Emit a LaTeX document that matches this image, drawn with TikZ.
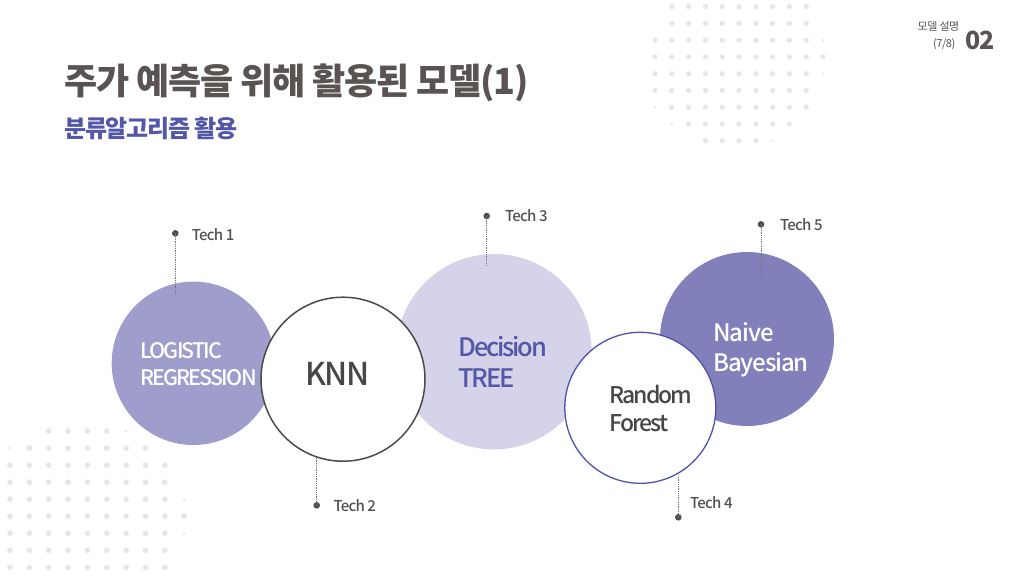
\documentclass[tikz,border=0pt]{standalone}
\usepackage{fontspec}
\newfontfamily\krA{Noto Sans CJK KR Medium}[LetterSpace=-5]
\newfontfamily\krN{Noto Sans CJK KR Medium}[LetterSpace=-8.5]
\newfontfamily\krT{Noto Sans CJK KR Black}[LetterSpace=-3.3]
\newfontfamily\krS{Noto Sans CJK KR}[LetterSpace=-5]
\newfontfamily\krR{Noto Sans CJK KR}[LetterSpace=-4]
\definecolor{titlegray}{HTML}{595352}
\definecolor{subblue}{HTML}{5457A8}
\definecolor{dotgray}{HTML}{E6E6E6}
\definecolor{logfill}{HTML}{9E9DCC}
\definecolor{decfill}{HTML}{D4D3EA}
\definecolor{naivefill}{HTML}{8180BB}
\definecolor{rfborder}{HTML}{5053A5}
\definecolor{knnborder}{HTML}{4D4949}
\definecolor{textgray}{HTML}{4A4545}
\definecolor{techgray}{HTML}{555050}
\begin{document}
\begin{tikzpicture}[x=1pt,y=-1pt,
  bigcircle/.style={circle, inner sep=0pt, draw=none},
  techdot/.style={circle, inner sep=0pt, minimum size=6.6pt, fill=techgray},
  dotline/.style={draw=techgray!80, line width=0.7pt, dash pattern=on 0.9pt off 0.9pt},
  techlabel/.style={anchor=base west, inner sep=0pt, text=techgray, font=\krA\fontsize{15}{18}\selectfont},
  linetext/.style={anchor=base west, inner sep=0pt}
]
\useasboundingbox (0,0) rectangle (1024,576);
\fill[white] (0,0) rectangle (1024,576);

% dot grid top right
\foreach \r/\a/\b in {0/1/9,1/1/9,2/0/9,3/0/10,4/0/9,5/0/9,6/1/9,7/2/8,8/3/6}
  \foreach \c in {\a,...,\b}
    \fill[dotgray] (655+\c*16.8, 6.7+\r*16.75) circle (2.6pt);
\foreach \r/\c in {2/10,4/10,6/0,7/1,8/7}
  \fill[dotgray] (655+\c*16.8, 6.7+\r*16.75) circle (1.3pt);

% dot grid bottom left
\foreach \r/\a/\b in {0/2/5,1/1/7,2/0/8,3/0/8,4/0/8,5/0/9,6/0/8,7/0/8,8/0/8}
  \foreach \c in {\a,...,\b}
    \fill[dotgray] (10+\c*19.35, 431+\r*17.05) circle (2.8pt);
\foreach \r/\c in {0/6,1/0,4/9,6/9}
  \fill[dotgray] (10+\c*19.35, 431+\r*17.05) circle (1.4pt);

% title
\node[linetext, text=titlegray, font=\krT\fontsize{36}{40}\selectfont] (title) at (64,94) {주가 예측을 위해 활용된 모델(1)};
\node[linetext, text=subblue, font=\krS\bfseries\fontsize{24}{28}\selectfont] (subtitle) at (64,137.5) {분류알고리즘 활용};

% header right
\node[anchor=base east, inner sep=0pt, text=titlegray, font=\krR\fontsize{11}{13}\selectfont] (sec) at (959.5,30) {모델 설명};
\node[anchor=base east, inner sep=0pt, text=titlegray, font=\krR\fontsize{11}{13}\selectfont] (page) at (955.5,47.5) {(7/8)};
\node[linetext, text=titlegray, font=\krS\bfseries\fontsize{25}{28}\selectfont] (num) at (965,49) {02};

% circles
\node[bigcircle, fill=logfill, minimum size=163.4pt] (logc) at (193.4,363.3) {};
\node[bigcircle, fill=decfill, minimum size=195.4pt] (decc) at (494,351.7) {};
\node[bigcircle, fill=white, draw=knnborder, line width=1.5pt, minimum size=164pt] (knnc) at (343,379.2) {};
\node[bigcircle, fill=naivefill, minimum size=174pt] (naic) at (747,339) {};
\node[bigcircle, fill=white, draw=rfborder, line width=1.3pt, minimum size=151pt] (rfc) at (640.3,407.8) {};

% circle texts
\node[linetext, text=white, font=\krN\fontsize{21.4}{26}\selectfont] (log1) at (140,358.3) {LOGISTIC};
\node[linetext, text=white, font=\krN\fontsize{21.4}{26}\selectfont] (log2) at (140,385) {REGRESSION};
\node[anchor=base, inner sep=0pt, text=textgray, font=\krA\fontsize{31.5}{36}\selectfont] (knn) at (337.3,385.7) {KNN};
\node[linetext, text=subblue, font=\krN\fontsize{25.5}{30}\selectfont] (dec1) at (458.3,356) {Decision};
\node[linetext, text=subblue, font=\krN\fontsize{25.5}{30}\selectfont] (dec2) at (458.3,387.3) {TREE};
\node[linetext, text=white, font=\krA\fontsize{24}{28}\selectfont] (nai1) at (713.3,341.7) {Naive};
\node[linetext, text=white, font=\krA\fontsize{24}{28}\selectfont] (nai2) at (713.3,371.7) {Bayesian};
\node[linetext, text=textgray, font=\krN\fontsize{23}{27}\selectfont] (rf1) at (609.3,403.3) {Random};
\node[linetext, text=textgray, font=\krN\fontsize{23}{27}\selectfont] (rf2) at (609.3,431.7) {Forest};

% tech markers
\coordinate (e1) at (175.3,293.3);
\coordinate (e2) at (316.7,457.7);
\coordinate (e3) at (486.7,265.7);
\coordinate (e4) at (678.3,476.7);
\coordinate (e5) at (761,276.7);
\node[techdot] (d1) at (175.3,233.3) {};
\node[techdot] (d2) at (316.7,505.3) {};
\node[techdot] (d3) at (486.7,216) {};
\node[techdot] (d4) at (678.3,517.3) {};
\node[techdot] (d5) at (761,224.3) {};
\draw[dotline] (d1.center) -- (e1);
\draw[dotline] (e2) -- (d2.center);
\draw[dotline] (d3.center) -- (e3);
\draw[dotline] (e4) -- (d4.center);
\draw[dotline] (d5.center) -- (e5);
\node[techlabel] (l1) at (191.7,240) {Tech 1};
\node[techlabel] (l2) at (333.3,511.7) {Tech 2};
\node[techlabel] (l3) at (505,221.7) {Tech 3};
\node[techlabel] (l4) at (690,508.3) {Tech 4};
\node[techlabel] (l5) at (780,230.7) {Tech 5};
\end{tikzpicture}
\end{document}
